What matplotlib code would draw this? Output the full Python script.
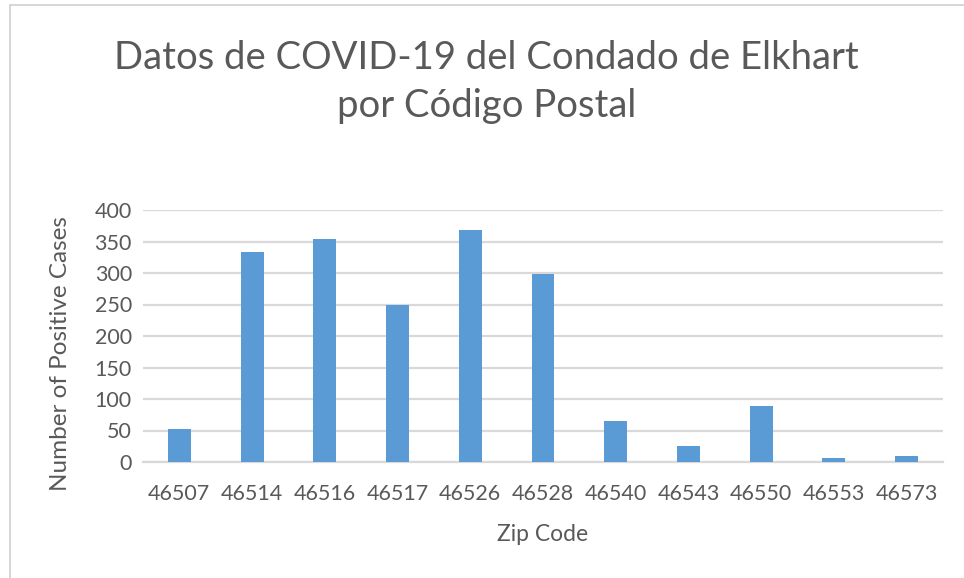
import matplotlib.pyplot as plt
import matplotlib.patches as patches

zip_codes = ['46507', '46514', '46516', '46517', '46526', '46528',
             '46540', '46543', '46550', '46553', '46573']
positive_cases = [52, 333, 354, 250, 369, 298, 65, 26, 89, 6, 9]

bar_color = '#5b9bd5'
text_color = '#595959'
grid_color = '#d9d9d9'

plt.rcParams['font.family'] = ['Lato', 'DejaVu Sans']

fig = plt.figure(figsize=(9.64, 5.78), dpi=100)
ax = fig.add_axes([143 / 964, 1 - 462 / 578, 800 / 964, 252 / 578])

x = range(len(zip_codes))
ax.bar(x, positive_cases, width=0.315, color=bar_color, zorder=3)

ax.set_xlim(-0.5, len(zip_codes) - 0.5)
ax.set_ylim(0, 400)
ax.set_yticks(range(0, 401, 50))
ax.set_xticks(list(x), zip_codes)
ax.yaxis.grid(True, color=grid_color, linewidth=1.6, zorder=0)
ax.tick_params(length=0, labelsize=15.5, labelcolor=text_color, pad=8)
ax.tick_params(axis='x', pad=16)
for side in ['top', 'right', 'left']:
    ax.spines[side].set_visible(False)
ax.spines['bottom'].set_color(grid_color)
ax.spines['bottom'].set_linewidth(1.6)

ax.set_xlabel('Zip Code', fontsize=16.5, color=text_color, labelpad=14)
ax.set_ylabel('Number of Positive Cases', fontsize=17.5, color=text_color)
ax.yaxis.set_label_coords(-0.09, 0.43)

fig.text(0.505, 1 - 58 / 578, 'Datos de COVID-19 del Condado de Elkhart',
         ha='center', va='center', fontsize=27.5, color=text_color)
fig.text(0.505, 1 - 106 / 578, 'por Código Postal',
         ha='center', va='center', fontsize=27.5, color=text_color)

# chart frame
fig.patches.append(patches.Rectangle((10 / 964, -0.1), 1.2, 1 - 5 / 578 + 0.1,
                                     transform=fig.transFigure, fill=False,
                                     edgecolor='#d0d0d0', linewidth=1.2))

fig.savefig('out.png', dpi=100)
